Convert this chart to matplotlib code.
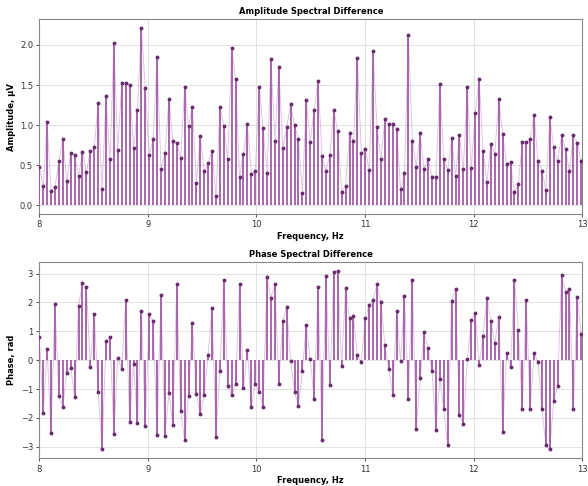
import numpy as np
import matplotlib
matplotlib.use("Agg")
import matplotlib.pyplot as plt

# frequency grid, 8-13 Hz
freqs = np.linspace(8.0, 12.99, 139)

amplitude = [
    0.48, 0.24, 1.04, 0.18, 0.23, 0.55, 0.82, 0.30, 0.65, 0.62,
    0.36, 0.66, 0.41, 0.67, 0.72, 1.27, 0.20, 1.36, 0.57, 2.02,
    0.69, 1.52, 1.52, 1.50, 0.71, 1.19, 2.21, 1.46, 0.62, 0.82,
    1.85, 0.45, 0.65, 1.32, 0.80, 0.77, 0.59, 1.47, 0.99, 1.22,
    0.28, 0.86, 0.43, 0.52, 0.68, 0.11, 1.23, 0.99, 0.57, 1.96,
    1.57, 0.35, 0.64, 1.01, 0.39, 0.42, 1.48, 0.96, 0.40, 1.82,
    0.80, 1.72, 0.71, 0.97, 1.26, 1.00, 0.82, 0.15, 1.31, 0.79,
    1.19, 1.55, 0.61, 0.43, 0.62, 1.19, 0.92, 0.17, 0.24, 0.90,
    0.80, 1.84, 0.65, 0.70, 0.44, 1.92, 0.98, 0.57, 1.08, 1.01,
    1.01, 0.95, 0.20, 0.40, 2.12, 0.80, 0.48, 0.90, 0.45, 0.58,
    0.35, 0.35, 1.51, 0.58, 0.44, 0.84, 0.36, 0.87, 0.45, 1.48,
    0.46, 1.15, 1.58, 0.68, 0.29, 0.76, 0.64, 1.32, 0.89, 0.51,
    0.54, 0.16, 0.27, 0.79, 0.79, 0.82, 1.13, 0.55, 0.43, 0.19,
    1.10, 0.72, 0.55, 0.87, 0.70, 0.43, 0.87, 0.78, 0.55,
]

phase = [
    0.79, -1.84, 0.39, -2.51, 1.94, -1.24, -1.62, -0.43, -0.27, -1.26,
    1.89, 2.66, 2.52, -0.22, 1.59, -1.09, -3.09, 0.67, 0.79, -2.55,
    0.08, -0.32, 2.08, -2.13, -0.14, -2.16, 1.70, -2.28, 1.60, 1.34,
    -2.60, 2.26, -2.63, -1.15, -2.23, 2.62, -1.75, -2.77, -1.24, 1.28,
    -1.17, -1.88, -1.20, 0.19, 1.82, -2.65, -0.37, 2.76, -0.90, -1.22,
    -0.81, 2.63, -0.98, 0.36, -1.61, -0.81, -1.10, -1.61, 2.87, 2.15,
    2.64, -0.82, 1.34, 1.83, -0.02, -1.09, -1.60, -0.38, 1.23, 0.03,
    -1.35, 2.55, -2.77, 2.93, -0.87, 3.04, 3.08, -0.20, 2.50, 1.46,
    1.52, 0.17, -0.05, 1.45, 1.91, 2.08, 2.62, 2.00, 0.53, -0.31,
    -1.20, 1.69, -0.03, 2.21, -1.34, 2.79, -2.40, -0.63, 0.96, 0.43,
    -0.38, -2.43, -0.66, -1.70, -2.95, 2.05, 2.47, -1.89, -2.21, 0.03,
    1.40, 1.63, -0.16, 0.84, 2.15, 1.37, 0.59, 1.50, -2.50, 0.24,
    -0.25, 2.79, 1.05, -1.70, 2.09, -1.70, 0.24, -0.07, -1.70, -2.93,
    -3.09, -1.41, -0.89, 2.96, 2.35, 2.47, -1.70, 2.18, 0.90,
]

stem_col = "#a45aa8"
dot_col = "#6a2d6e"

fig = plt.figure(figsize=(5.88, 4.86), dpi=100)
ax1 = fig.add_axes([0.0668, 0.5597, 0.9235, 0.4006])
ax2 = fig.add_axes([0.0668, 0.0570, 0.9235, 0.4033])


def draw(ax, y, title, ylabel):
    ax.plot(freqs, y, color=stem_col, alpha=0.35, linewidth=0.7, zorder=2)
    markerline, stemlines, baseline = ax.stem(freqs, y, basefmt=" ")
    plt.setp(stemlines, color=stem_col, linewidth=1.3, zorder=3)
    plt.setp(markerline, color=dot_col, markersize=1.8, zorder=4)
    ax.set_xlim(8, 13)
    ax.set_xticks([8, 9, 10, 11, 12, 13])
    ax.grid(True, color="#dddddd", linewidth=0.6)
    ax.set_axisbelow(True)
    ax.set_title(title, fontsize=6, fontweight="bold", pad=4)
    ax.set_xlabel("Frequency, Hz", fontsize=6, fontweight="bold", labelpad=2)
    ax.set_ylabel(ylabel, fontsize=6, fontweight="bold", labelpad=3)
    ax.tick_params(labelsize=6, length=2.5, width=0.6, pad=2, colors="#333333")
    for sp in ax.spines.values():
        sp.set_color("#888888")
        sp.set_linewidth(0.8)


draw(ax1, amplitude, "Amplitude Spectral Difference", "Amplitude, µV")
ax1.set_yticks([0.0, 0.5, 1.0, 1.5, 2.0])
draw(ax2, phase, "Phase Spectral Difference", "Phase, rad")
ax2.set_yticks([-3, -2, -1, 0, 1, 2, 3])

fig.savefig("out.png", dpi=100)
